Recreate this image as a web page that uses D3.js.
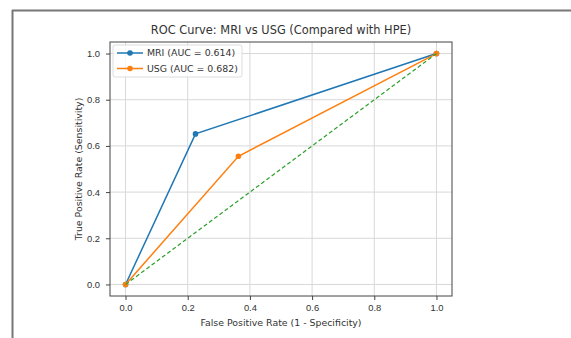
<!DOCTYPE html>
<html>
<head>
<meta charset="utf-8">
<script src="https://cdn.jsdelivr.net/npm/d3@7"></script>
<style>
  body { margin: 0; background: #fff; }
  svg { font-family: "DejaVu Sans", sans-serif; }
</style>
</head>
<body>
<script>
// ROC points
const series = ["MRI (AUC = 0.614)", "USG (AUC = 0.682)"];
const mriFpr = [0, 0.225, 1];
const mriTpr = [0, 0.652, 1];
const usgFpr = [0, 0.363, 1];
const usgTpr = [0, 0.555, 1];
const chanceLine = [0, 1];
const ticks = [0, 0.2, 0.4, 0.6, 0.8, 1.0];

const W = 571, H = 338;
const m = {top: 42, left: 110, right: 119, bottom: 42};
const w = W - m.left - m.right;
const h = H - m.top - m.bottom;
const fs = 9.4;

const root = d3.select("body").append("svg")
    .attr("width", W)
    .attr("height", H);

// the photo frame lines at top and left
root.append("line").attr("x1", 12).attr("x2", W).attr("y1", 10.5).attr("y2", 10.5)
    .attr("stroke", "#777").attr("stroke-width", 2);
root.append("line").attr("x1", 12.5).attr("x2", 12.5).attr("y1", 10).attr("y2", H)
    .attr("stroke", "#777").attr("stroke-width", 2);

const svg = root.append("g")
    .attr("transform", `translate(${m.left}, ${m.top})`);

const x = d3.scaleLinear().domain([-0.05, 1.05]).range([0, w]);
const y = d3.scaleLinear().domain([-0.05, 1.05]).range([h, 0]);

// grid
svg.append("g").selectAll("line").data(ticks).enter().append("line")
    .attr("x1", d => x(d)).attr("x2", d => x(d)).attr("y1", 0).attr("y2", h)
    .attr("stroke", "#d8d8d8").attr("stroke-width", 1);
svg.append("g").selectAll("line").data(ticks).enter().append("line")
    .attr("y1", d => y(d)).attr("y2", d => y(d)).attr("x1", 0).attr("x2", w)
    .attr("stroke", "#d8d8d8").attr("stroke-width", 1);

const xAxis = d3.axisBottom(x).tickValues(ticks).tickFormat(d3.format(".1f")).tickSize(4).tickPadding(4);
const yAxis = d3.axisLeft(y).tickValues(ticks).tickFormat(d3.format(".1f")).tickSize(4).tickPadding(6);

const gx = svg.append("g").attr("transform", `translate(0, ${h})`).call(xAxis);
const gy = svg.append("g").call(yAxis);
[gx, gy].forEach(g => {
    g.select(".domain").remove();
    g.selectAll("text").attr("font-size", fs).attr("fill", "#333");
    g.selectAll("line").attr("stroke", "#444");
});

svg.append("rect").attr("width", w).attr("height", h)
    .attr("fill", "none").attr("stroke", "#444").attr("stroke-width", 1);

const line = d3.line().x(d => x(d[0])).y(d => y(d[1]));

const curves = [
    {pts: d3.zip(mriFpr, mriTpr), color: "#1f77b4"},
    {pts: d3.zip(usgFpr, usgTpr), color: "#ff7f0e"}
];

curves.forEach(c => {
    svg.append("path").datum(c.pts).attr("d", line)
        .attr("fill", "none").attr("stroke", c.color).attr("stroke-width", 1.5);
    svg.selectAll(null).data(c.pts).enter().append("circle")
        .attr("cx", d => x(d[0])).attr("cy", d => y(d[1])).attr("r", 2.8)
        .attr("fill", c.color);
});

svg.append("path").datum(d3.zip(chanceLine, chanceLine)).attr("d", line)
    .attr("fill", "none").attr("stroke", "#2ca02c").attr("stroke-width", 1.2)
    .attr("stroke-dasharray", "4,2.5");

// legend
const lg = svg.append("g").attr("transform", "translate(3, 3)");
lg.append("rect").attr("width", 129).attr("height", 32).attr("rx", 2)
    .attr("fill", "#fff").attr("fill-opacity", 0.8).attr("stroke", "#ddd");
series.forEach((s, i) => {
    const yy = 8 + i * 15.5;
    lg.append("line").attr("x1", 4).attr("x2", 30).attr("y1", yy).attr("y2", yy)
        .attr("stroke", curves[i].color).attr("stroke-width", 1.5);
    lg.append("circle").attr("cx", 17).attr("cy", yy).attr("r", 2.8).attr("fill", curves[i].color);
    lg.append("text").attr("x", 34).attr("y", yy).attr("dy", "0.35em")
        .attr("font-size", fs).attr("fill", "#333").text(s);
});

root.append("text").attr("x", m.left + w / 2).attr("y", 34)
    .attr("text-anchor", "middle").attr("font-size", 11.4).attr("fill", "#333")
    .text("ROC Curve: MRI vs USG (Compared with HPE)");
root.append("text").attr("x", m.left + w / 2).attr("y", 326)
    .attr("text-anchor", "middle").attr("font-size", fs).attr("fill", "#333")
    .text("False Positive Rate (1 - Specificity)");
root.append("text").attr("transform", `translate(82, ${m.top + h / 2}) rotate(-90)`)
    .attr("text-anchor", "middle").attr("font-size", fs).attr("fill", "#333")
    .text("True Positive Rate (Sensitivity)");
</script>
</body>
</html>
